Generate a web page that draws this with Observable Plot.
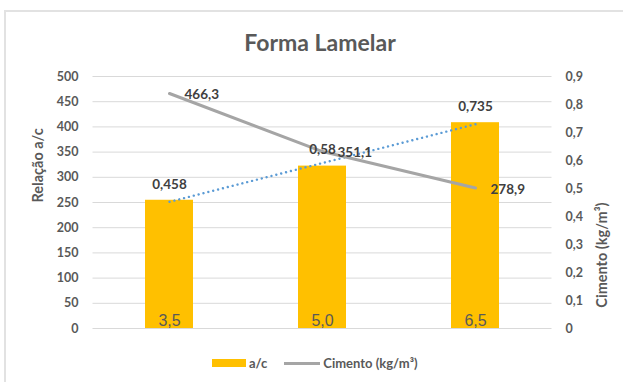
<!DOCTYPE html>
<html>
<head>
<meta charset="utf-8">
<script src="https://cdn.jsdelivr.net/npm/d3@7"></script>
<script src="https://cdn.jsdelivr.net/npm/@observablehq/plot@0.6"></script>
<style>
  html, body { margin: 0; padding: 0; background: #fff; }
  #wrap { position: relative; width: 623px; height: 382px; overflow: hidden; font-family: Lato, "Open Sans", sans-serif; }
  #frame { position: absolute; left: 4px; top: 10px; width: 700px; height: 500px; border-left: 2px solid #E2E2E2; border-top: 2px solid #E2E2E2; }
  #title { position: absolute; left: 0; width: 640px; top: 29px; line-height: 26px; text-align: center; font-size: 23px; font-weight: bold; color: #595959; }
  #legend { position: absolute; left: 212px; top: 354px; height: 18px; display: flex; align-items: center; font-size: 13px; font-weight: bold; color: #595959; }
  .sw-bar { width: 34px; height: 8px; background: #FFC000; margin-right: 3px; }
  .sw-line { width: 36px; height: 3px; background: #A5A5A5; margin-left: 17px; margin-right: 3px; }
  #chart { position: absolute; left: 0; top: 0; }
  #chart svg text { font-weight: bold; }
  #chart svg text.catlab, #chart svg g.catlab text { font-weight: normal; }
</style>
</head>
<body>
<div id="wrap">
  <div id="chart"></div>
  <div id="frame"></div>
  <div id="title">Forma Lamelar</div>
  <div id="legend"><div class="sw-bar"></div><span>a/c</span><div class="sw-line"></div><span>Cimento (kg/m³)</span></div>
</div>
<script>
const categories = ["3,5", "5,0", "6,5"];
const acValues = [0.458, 0.58, 0.735];
const cimentoValues = [466.3, 351.1, 278.9];
const leftTicks = [0, 50, 100, 150, 200, 250, 300, 350, 400, 450, 500];
const rightTicks = [0, 0.1, 0.2, 0.3, 0.4, 0.5, 0.6, 0.7, 0.8, 0.9];
const leftMax = 500, rightMax = 0.9;
const k = leftMax / rightMax;

const data = categories.map((c, i) => ({i: i + 1, cat: c, ac: acValues[i], cim: cimentoValues[i]}));
const comma = v => String(+v.toFixed(3)).replace(".", ",");

const chart = Plot.plot({
  width: 623,
  height: 382,
  marginLeft: 92.5,
  marginRight: 71.5,
  marginTop: 76,
  marginBottom: 54,
  style: {fontFamily: "Lato, 'Open Sans', sans-serif", background: "transparent"},
  x: {type: "linear", domain: [0.5, 3.5], axis: null},
  y: {domain: [0, leftMax], axis: null},
  marks: [
    Plot.ruleY(leftTicks, {stroke: "#D9D9D9", strokeWidth: 1}),
    Plot.axisY(leftTicks, {anchor: "left", tickSize: 0, tickPadding: 14.5, fontSize: 12.5, fill: "#595959", label: null}),
    Plot.axisY(rightTicks.map(v => v * k), {anchor: "right", tickSize: 0, tickPadding: 13.5, tickFormat: v => comma(v / k), fontSize: 12.5, fill: "#595959", label: null}),
    Plot.text(["Relação a/c"], {frameAnchor: "left", dx: -55, rotate: -90, fontSize: 14.5, fill: "#595959"}),
    Plot.text(["Cimento (kg/m³)"], {frameAnchor: "right", dx: 50, rotate: -90, fontSize: 14.5, fill: "#595959"}),
    Plot.rectY(data, {x1: d => d.i - 0.5, x2: d => d.i + 0.5, y1: 0, y2: d => d.ac * k, fill: "#FFC000", insetLeft: 52.5, insetRight: 52.5}),
    Plot.text(data, {x: "i", text: "cat", frameAnchor: "bottom", dy: -7.5, lineAnchor: "middle", fontSize: 16, fill: "#595959", fontFamily: "'Liberation Sans', Arial, sans-serif", className: "catlab"}),
    Plot.linearRegressionY(data, {x: "i", y: d => d.ac * k, ci: 0, stroke: "#5B9BD5", strokeWidth: 2.4, strokeLinecap: "round", strokeDasharray: "0.01,5"}),
    Plot.line(data, {x: "i", y: "cim", stroke: "#A5A5A5", strokeWidth: 3}),
    Plot.text(data, {x: "i", y: "cim", text: d => comma(d.cim), textAnchor: "start", dx: 15, dy: 1.5, fontSize: 13.5, fill: "#404040"}),
    Plot.text(data, {x: "i", y: d => d.ac * k, text: d => comma(d.ac), dy: -16, fontSize: 13.5, fill: "#404040"})
  ]
});
document.getElementById("chart").appendChild(chart);
</script>
</body>
</html>
